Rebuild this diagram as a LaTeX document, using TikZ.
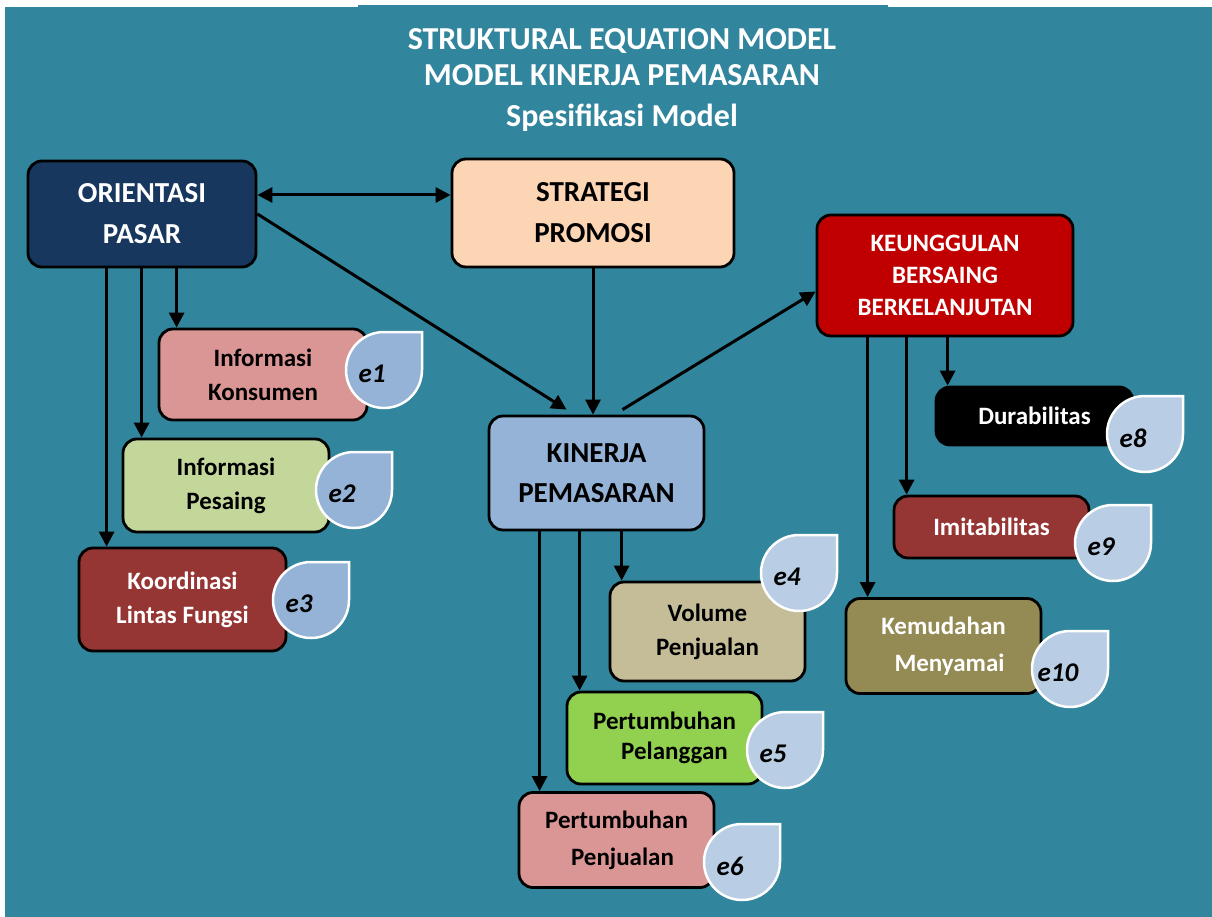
\documentclass[tikz,border=0pt]{standalone}
\usepackage{fontspec}
\setmainfont{Carlito}
\usetikzlibrary{arrows.meta}
\definecolor{bgteal}{HTML}{31859C}
\definecolor{navy}{HTML}{17375E}
\definecolor{peach}{HTML}{FCD5B5}
\definecolor{darkred}{HTML}{C00000}
\definecolor{rose}{HTML}{DA9694}
\definecolor{palegreen}{HTML}{C4D79B}
\definecolor{brick}{HTML}{963634}
\definecolor{skyblue}{HTML}{95B3D7}
\definecolor{sand}{HTML}{C4BD97}
\definecolor{limegreen}{HTML}{92D050}
\definecolor{khaki}{HTML}{948A54}
\definecolor{paleblue}{HTML}{B9CDE5}

% error term: round drop with a square top-right corner
\newcommand{\errdrop}[4]{%
  \filldraw[fill=#3, draw=white, line width=2.5pt, shift={(#2)}]
    (38,0) -- (38,-38) -- (0,-38) arc[start angle=270, end angle=0, radius=38] -- cycle;
  \node[errlbl, xshift=-12pt, yshift=-4pt] (#1) at (#2) {#4};}

\begin{document}
\begin{tikzpicture}[x=1pt, y=-1pt,
    box/.style={draw=black, line width=2.8pt, rounded corners=14pt, align=center,
      font=\bfseries\fontsize{25}{34}\selectfont},
    big/.style={font=\bfseries\fontsize{29}{41}\selectfont},
    ttl/.style={text=white, anchor=base, font=\bfseries\fontsize{32}{36}\selectfont},
    arr/.style={line width=3pt, -{Triangle[length=15pt,width=15pt]}},
    darr/.style={line width=3pt, {Triangle[length=15pt,width=15pt]}-{Triangle[length=15pt,width=15pt]}},
    errlbl/.style={font=\bfseries\itshape\fontsize{27}{30}\selectfont}]

    % background
    \fill[white] (0,0) rectangle (1212,917);
    \fill[bgteal] (5,7) rectangle (1212,917);
    \fill[bgteal] (358,5) rectangle (888,7);
    \useasboundingbox (0,0) rectangle (1212,917);

    \node[ttl] (title1) at (622,50) {STRUKTURAL EQUATION MODEL};
    \node[ttl] (title2) at (622,86) {MODEL KINERJA PEMASARAN};
    \node[ttl] (title3) at (622,127) {Spesifikasi Model};

    % latent variables
    \node[box, big, fill=navy, text=white, minimum width=228pt, minimum height=106pt] (op) at (142,214) {ORIENTASI\\PASAR};
    \node[box, big, fill=peach, minimum width=282pt, minimum height=108pt] (sp) at (593,213) {STRATEGI\\PROMOSI};
    \node[box, big, fill=skyblue, minimum width=215pt, minimum height=114pt, font=\bfseries\fontsize{29}{40}\selectfont] (kp) at (596.5,473) {KINERJA\\PEMASARAN};
    \node[box, fill=darkred, text=white, minimum width=256pt, minimum height=121pt, font=\bfseries\fontsize{25}{32}\selectfont] (kb) at (945,275.5) {KEUNGGULAN\\BERSAING\\BERKELANJUTAN};

    % indicators
    \node[box, fill=rose, minimum width=208pt, minimum height=91pt] (ik) at (263,374.5) {Informasi\\Konsumen};
    \node[box, fill=palegreen, minimum width=206pt, minimum height=93pt] (ip) at (226,485.5) {Informasi\\Pesaing};
    \node[box, fill=brick, text=white, minimum width=207pt, minimum height=103pt] (klf) at (182.5,599.5) {Koordinasi\\Lintas Fungsi};
    \node[box, fill=sand, minimum width=195pt, minimum height=99pt] (vp) at (707.5,631.5) {Volume\\Penjualan};
    \node[box, fill=limegreen, minimum width=195pt, minimum height=92pt, font=\bfseries\fontsize{25}{30}\selectfont] (pp) at (664.5,738) {Pertumbuhan\\\hspace*{20pt}Pelanggan};
    \node[box, fill=rose, minimum width=195pt, minimum height=95pt, font=\bfseries\fontsize{25}{37}\selectfont] (pj) at (616.5,840) {Pertumbuhan\\\hspace*{12pt}Penjualan};
    \node[box, fill=black, text=white, minimum width=197pt, minimum height=58pt] (du) at (1034.5,416) {Durabilitas};
    \node[box, fill=brick, text=white, minimum width=195pt, minimum height=62pt] (im) at (991.5,527) {Imitabilitas};
    \node[box, fill=khaki, text=white, minimum width=195pt, minimum height=95pt, font=\bfseries\fontsize{25}{37}\selectfont] (km) at (943.5,646) {Kemudahan\\\hspace*{12pt}Menyamai};

    % structural paths
    \coordinate (d1) at ([yshift=19pt]op.east);
    \draw[darr] (d1) -- (d1 -| sp.west);
    \draw[arr] (op.east) -- ([xshift=-30pt,yshift=5pt]kp.north);
    \draw[arr] (sp.south) -- (sp.south |- kp.north);
    \draw[arr] ([xshift=26pt,yshift=5pt]kp.north) -- ([yshift=-16pt]kb.west);

    % loadings
    \foreach \src/\dst/\dx in {op/ik/19, op/ip/20, op/klf/29, kp/vp/13, kp/pp/14, kp/pj/22, kb/du/13, kb/im/14, kb/km/23} {
        \coordinate (t) at ([xshift=\dx pt]\dst.north west);
        \draw[arr] (\src.south -| t) -- (t);
    }

    % error terms
    \errdrop{e1}{384,370}{skyblue}{e1}
    \errdrop{e2}{354,490}{skyblue}{e2}
    \errdrop{e3}{311,600}{skyblue}{e3}
    \errdrop{e4}{799,573}{paleblue}{e4}
    \errdrop{e5}{785,750}{paleblue}{e5}
    \errdrop{e6}{742,862}{paleblue}{e6}
    \errdrop{e8}{1145,434}{paleblue}{e8}
    \errdrop{e9}{1113,543}{paleblue}{e9}
    \errdrop{e10}{1070,669}{paleblue}{e10}
\end{tikzpicture}
\end{document}
